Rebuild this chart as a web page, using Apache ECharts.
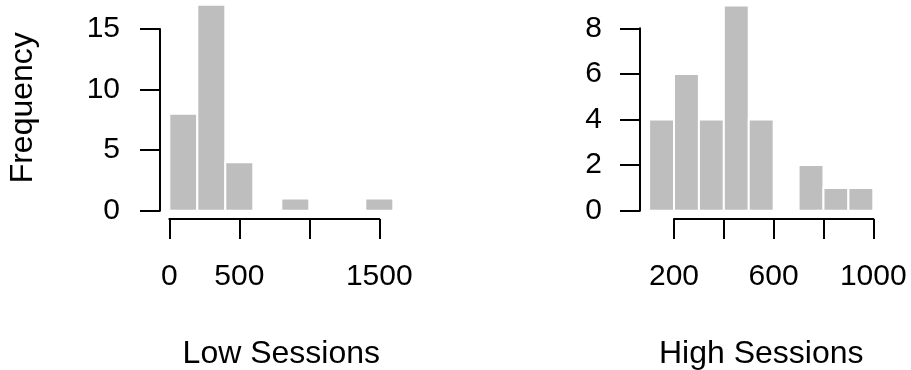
<!DOCTYPE html>
<html>
<head>
    <meta charset="utf-8">
    <title>Sessions histograms</title>
    <script src="https://cdn.jsdelivr.net/npm/echarts@6/dist/echarts.min.js"></script>
</head>
<body style="margin:0;background:#fff;">
    <div id="main" style="width: 911px;height:370px;"></div>

    <script type="text/javascript">
        // histogram bins and counts
        var lowBreaks = [0, 200, 400, 600, 800, 1000, 1200, 1400, 1600];
        var lowCounts = [8, 17, 4, 0, 1, 0, 0, 1];
        var highBreaks = [100, 200, 300, 400, 500, 600, 700, 800, 900, 1000];
        var highCounts = [4, 6, 4, 9, 4, 0, 2, 1, 1];

        // tick labels (R drops the ones that would overlap)
        var lowXTicks = [0, 500, 1000, 1500];
        var lowXLabels = ['0', '500', '', '1500'];
        var highXTicks = [200, 400, 600, 800, 1000];
        var highXLabels = ['200', '', '600', '', '1000'];
        var lowYTicks = [0, 5, 10, 15];
        var lowYLabels = ['0', '5', '10', '15'];
        var highYTicks = [0, 2, 4, 6, 8];
        var highYLabels = ['0', '2', '4', '6', '8'];

        var FONT = 'Liberation Sans, Arial, Helvetica, sans-serif';

        var toBins = function (breaks, counts) {
            var res = [];
            for (var i = 0; i < counts.length; i++) {
                res.push([breaks[i], breaks[i + 1], counts[i]]);
            }
            return res;
        };

        var labelFor = function (ticks, labels) {
            return function (v) {
                var i = ticks.indexOf(v);
                return i < 0 ? '' : labels[i];
            };
        };

        var renderBin = function (params, api) {
            var p0 = api.coord([api.value(0), api.value(2)]);
            var p1 = api.coord([api.value(1), 0]);
            return {
                type: 'rect',
                shape: { x: p0[0], y: p0[1], width: p1[0] - p0[0], height: p1[1] - p0[1] },
                style: { fill: '#bebebe', stroke: '#ffffff', lineWidth: 2 }
            };
        };

        var hiddenAxis = function (grid, min, max, extra) {
            var a = {
                type: 'value', gridIndex: grid, min: min, max: max,
                axisLine: { show: false }, axisTick: { show: false },
                axisLabel: { show: false }, splitLine: { show: false }
            };
            for (var k in extra) a[k] = extra[k];
            return a;
        };

        var shownAxis = function (grid, min, max, interval, fmt, margin, pos) {
            return {
                type: 'value', gridIndex: grid, min: min, max: max, interval: interval,
                position: pos,
                axisLine: { show: true, lineStyle: { color: '#000', width: 2 } },
                axisTick: { show: true, length: 20, lineStyle: { color: '#000', width: 2 } },
                axisLabel: {
                    show: true, margin: margin, formatter: fmt, color: '#000',
                    fontSize: 30, fontFamily: FONT, showMinLabel: true, showMaxLabel: true,
                    hideOverlap: false
                },
                splitLine: { show: false }
            };
        };

        var nameStyle = { color: '#000', fontSize: 32, fontFamily: FONT };

        var myChart = echarts.init(document.getElementById('main'), null, { renderer: 'canvas' });

        var option = {
            animation: false,
            backgroundColor: '#fff',
            grid: [
                // left panel: plot area, x axis strip, y axis strip
                { left: 169.3, width: 224, top: 4.8, height: 205.9, outerBoundsMode: 'none' },
                { left: 169.3, width: 210, top: 200, height: 19, outerBoundsMode: 'none' },
                { left: 160, width: 10, top: 29.0, height: 181.7, outerBoundsMode: 'none' },
                // right panel
                { left: 649.1, width: 224.2, top: 5.5, height: 205.2, outerBoundsMode: 'none' },
                { left: 674, width: 199.3, top: 200, height: 19, outerBoundsMode: 'none' },
                { left: 640, width: 10, top: 28.3, height: 182.4, outerBoundsMode: 'none' }
            ],
            xAxis: [
                hiddenAxis(0, 0, 1600, {
                    name: 'Low Sessions', nameLocation: 'middle', nameGap: 127, nameTextStyle: nameStyle
                }),
                shownAxis(1, 0, 1500, 500, labelFor(lowXTicks, lowXLabels), 43, 'bottom'),
                hiddenAxis(2, 0, 1, {}),
                hiddenAxis(3, 100, 1000, {
                    name: 'High Sessions', nameLocation: 'middle', nameGap: 127, nameTextStyle: nameStyle
                }),
                shownAxis(4, 200, 1000, 200, labelFor(highXTicks, highXLabels), 43, 'bottom'),
                hiddenAxis(5, 0, 1, {})
            ],
            yAxis: [
                hiddenAxis(0, 0, 17, {
                    name: 'Frequency', nameLocation: 'middle', nameRotate: 90, nameGap: 130,
                    nameTextStyle: nameStyle
                }),
                hiddenAxis(1, 0, 1, {}),
                shownAxis(2, 0, 15, 5, labelFor(lowYTicks, lowYLabels), 40, 'left'),
                hiddenAxis(3, 0, 9, {}),
                hiddenAxis(4, 0, 1, {}),
                shownAxis(5, 0, 8, 2, labelFor(highYTicks, highYLabels), 38, 'left')
            ],
            series: [{
                type: 'custom',
                xAxisIndex: 0,
                yAxisIndex: 0,
                renderItem: renderBin,
                encode: { x: [0, 1], y: 2 },
                data: toBins(lowBreaks, lowCounts)
            }, {
                type: 'custom',
                xAxisIndex: 3,
                yAxisIndex: 3,
                renderItem: renderBin,
                encode: { x: [0, 1], y: 2 },
                data: toBins(highBreaks, highCounts)
            }]
        };

        myChart.setOption(option);
    </script>
</body>
</html>
